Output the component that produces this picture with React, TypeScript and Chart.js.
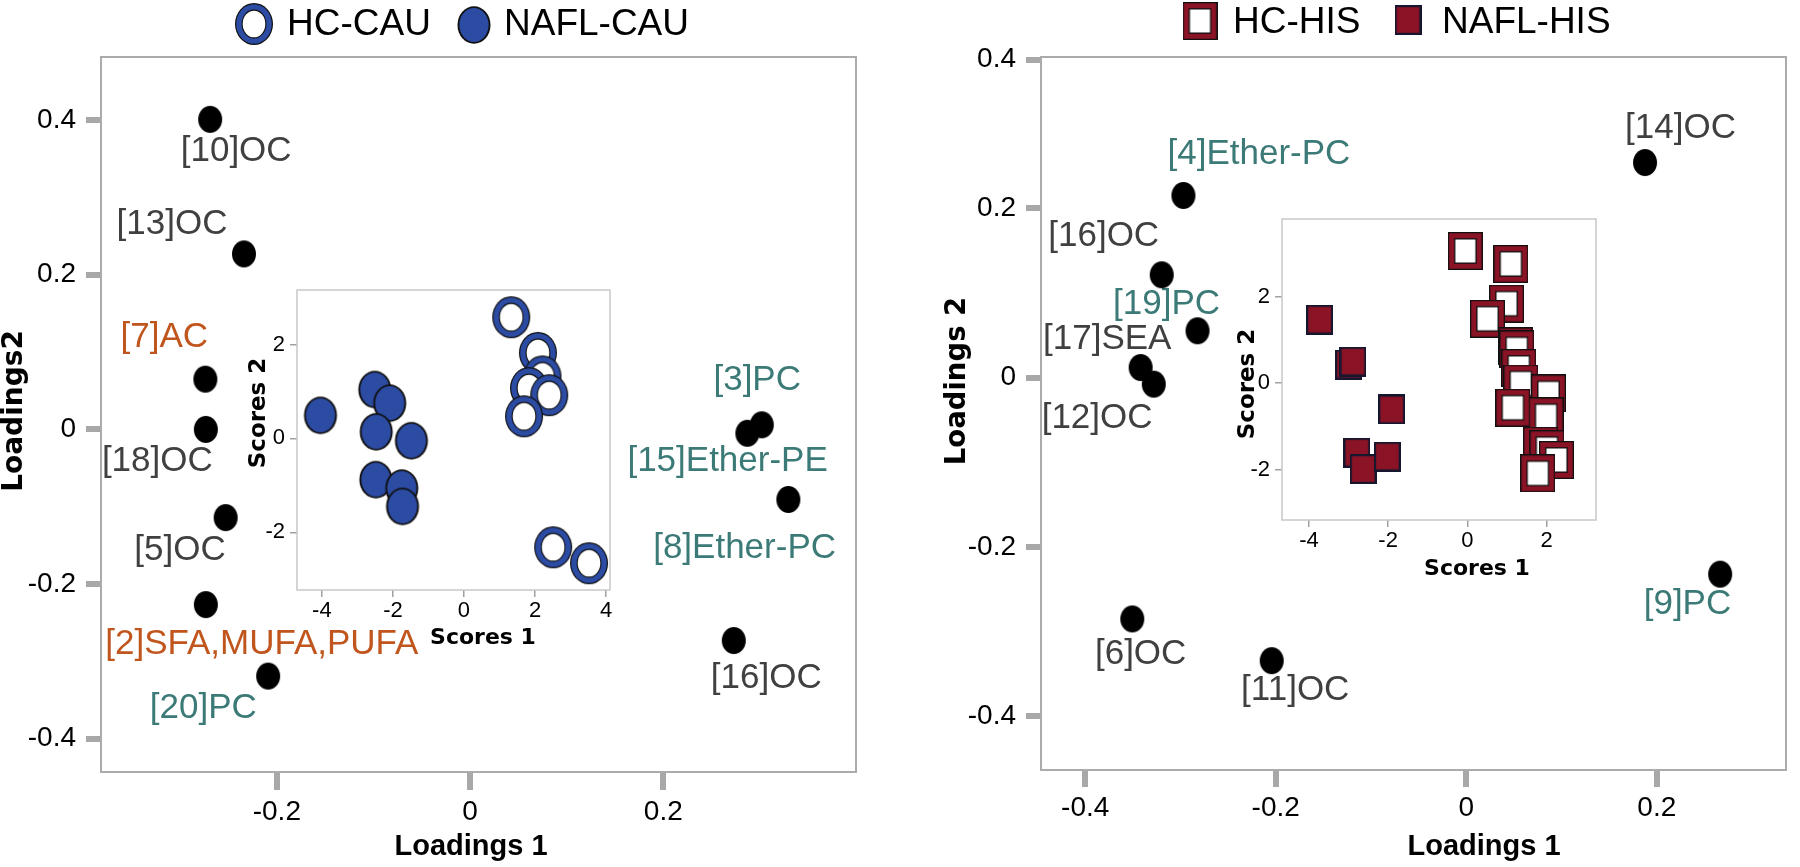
import React, { useEffect, useRef } from 'react';
import { Chart, registerables } from 'chart.js';
Chart.register(...registerables);

const SANS = '"Liberation Sans", Arial, sans-serif';
const DEJAVU = '"DejaVu Sans", sans-serif';

// ---------------- Left panel (CAU) : loadings ----------------
const cauLoadingLabels = ['[10]OC', '[13]OC', '[7]AC', '[18]OC', '[5]OC', '[2]SFA,MUFA,PUFA', '[20]PC', '[3]PC', '[15]Ether-PE', '[8]Ether-PC', '[16]OC'];
const cauLoading1 = [-0.269, -0.234, -0.274, -0.2735, -0.253, -0.2735, -0.209, 0.302, 0.287, 0.3295, 0.273];
const cauLoading2 = [0.401, 0.227, 0.065, 0.0, -0.114, -0.2265, -0.319, 0.006, -0.005, -0.0906, -0.273];
const cauLabelClass = ['OC', 'OC', 'FA', 'OC', 'OC', 'FA', 'PL', 'PL', 'PL', 'PL', 'OC'];
const cauLabelDx = [26, -72, -41, -48.5, -45.6, 56, -64.8, -4.6, -19.7, -43.8, 32.5];
const cauLabelDy = [32.4, -30, -42, 31.7, 32.7, 39.7, 32.3, -44.5, 28.5, 49, 38.3];
const cauLoadTicksX = [-0.2, 0, 0.2];
const cauLoadTicksY = [-0.4, -0.2, 0, 0.2, 0.4];
const cauLoadRangeX = [-0.382, 0.3995];
const cauLoadRangeY = [-0.443, 0.4816];

// ---------------- Left panel (CAU) : scores inset ----------------
const hcCauScore1 = [1.33, 2.08, 2.21, 1.83, 2.4, 1.69, 2.51, 3.52];
const hcCauScore2 = [2.58, 1.82, 1.32, 1.07, 0.92, 0.47, -2.32, -2.66];
const naflCauScore1 = [-4.04, -2.51, -2.09, -2.47, -1.48, -2.48, -1.75, -1.73];
const naflCauScore2 = [0.49, 1.04, 0.75, 0.14, -0.05, -0.88, -1.06, -1.45];
const cauScoreTicksX = [-4, -2, 0, 2, 4];
const cauScoreTicksY = [-2, 0, 2];
const cauScoreRangeX = [-4.7, 4.11];
const cauScoreRangeY = [-3.23, 3.16];

// ---------------- Right panel (HIS) : loadings ----------------
const hisLoadingLabels = ['[14]OC', '[4]Ether-PC', '[16]OC', '[19]PC', '[17]SEA', '[12]OC', '[9]PC', '[6]OC', '[11]OC'];
const hisLoading1 = [0.1876, -0.2969, -0.3197, -0.2821, -0.3418, -0.328, 0.2665, -0.3506, -0.2042];
const hisLoading2 = [0.254, 0.2151, 0.1214, 0.0552, 0.0118, -0.0078, -0.2323, -0.2852, -0.3345];
const hisLabelClass = ['OC', 'PL', 'OC', 'PL', 'OC', 'OC', 'PL', 'OC', 'OC'];
const hisLabelDx = [35.5, 75.5, -58, -31, -33.4, -56.7, -32.7, 8.4, 23.5];
const hisLabelDy = [-34, -40.7, -38, -26, -27.7, 34, 29.7, 35, 30];
const hisLoadTicksX = [-0.4, -0.2, 0, 0.2];
const hisLoadTicksY = [-0.4, -0.2, 0, 0.2, 0.3755];
const hisLoadTickLabelsY = ['-0.4', '-0.2', '0', '0.2', '0.4'];
const hisLoadRangeX = [-0.4464, 0.3356];
const hisLoadRangeY = [-0.4637, 0.3787];

// ---------------- Right panel (HIS) : scores inset ----------------
const hcHisScore1 = [-0.05, 1.1, 0.99, 0.51, 1.22, 1.25, 1.3, 1.35, 2.05, 1.15, 1.99, 1.85, 2.01, 2.25, 1.78];
const hcHisScore2 = [3.06, 2.76, 1.84, 1.49, 0.85, 0.78, 0.35, -0.01, -0.24, -0.57, -0.77, -1.45, -1.53, -1.78, -2.09];
const naflHisScore1 = [-3.73, -3.0, -2.89, -1.91, -2.79, -2.63, -2.02];
const naflHisScore2 = [1.47, 0.43, 0.5, -0.61, -1.61, -1.99, -1.7];
const hisScoreTicksX = [-4, -2, 0, 2];
const hisScoreTicksY = [-2, 0, 2];
const hisScoreRangeX = [-4.68, 3.25];
const hisScoreRangeY = [-3.17, 3.8];

const CLASS_COLORS: Record<string, string> = { OC: '#404040', FA: '#c0561d', PL: '#3b7a76' };
const BLUE = '#2c4ba3';
const RED = '#8b1326';
const NAVY = '#16162e';

// ---------------- marker images ----------------
let markerCache: Record<string, HTMLCanvasElement> | null = null;
function mk(w: number, h: number, draw: (g: CanvasRenderingContext2D) => void) {
  const c = document.createElement('canvas');
  c.width = w;
  c.height = h;
  const g = c.getContext('2d') as CanvasRenderingContext2D;
  draw(g);
  return c;
}
function ell(g: CanvasRenderingContext2D, cx: number, cy: number, rx: number, ry: number, col: string) {
  g.beginPath();
  g.ellipse(cx, cy, rx, ry, 0, 0, Math.PI * 2);
  g.fillStyle = col;
  g.fill();
}
function markers() {
  if (markerCache) return markerCache;
  markerCache = {
    dot: mk(26, 29, (g) => ell(g, 13, 14.5, 12, 13.5, '#000')),
    openCircle: mk(40, 44, (g) => {
      ell(g, 20, 22, 19, 21, '#111');
      ell(g, 20, 22, 17.8, 19.8, BLUE);
      ell(g, 20, 22, 12.4, 14.4, '#111');
      ell(g, 20, 22, 11.3, 13.3, '#fff');
    }),
    filledCircle: mk(36, 40, (g) => {
      ell(g, 18, 20, 16.5, 18.8, '#111');
      ell(g, 18, 20, 14.6, 16.9, BLUE);
    }),
    openSquare: mk(35, 38, (g) => {
      g.fillStyle = '#111';
      g.fillRect(0, 0, 35, 38);
      g.fillStyle = RED;
      g.fillRect(1.3, 1.3, 32.4, 35.4);
      g.fillStyle = '#111';
      g.fillRect(6.2, 6.2, 22.6, 25.6);
      g.fillStyle = '#fff';
      g.fillRect(7.5, 7.5, 20, 23);
    }),
    filledSquare: mk(27, 30, (g) => {
      g.fillStyle = NAVY;
      g.fillRect(0, 0, 27, 30);
      g.fillStyle = RED;
      g.fillRect(2.2, 2.2, 22.6, 25.6);
    }),
  };
  return markerCache;
}

// ---------------- helpers ----------------
type Title = { text: string; x: number; y: number; rot?: boolean; font: string };
type LegendItem = { marker: string; cx: number; cy: number; text: string; tx: number; ty: number };
type Decor = {
  offX: number;
  offY: number;
  fillArea?: boolean;
  boxColor: string;
  boxWidth: number;
  titles: Title[];
  legend?: LegendItem[];
  labels?: { text: string[]; cls: string[]; dx: number[]; dy: number[] };
};

function decorPlugin(d: Decor) {
  return {
    id: 'decor',
    beforeDraw(chart: any) {
      const { ctx, chartArea: a } = chart;
      if (d.fillArea) {
        ctx.save();
        ctx.fillStyle = '#fff';
        ctx.fillRect(a.left, a.top, a.right - a.left, a.bottom - a.top);
        ctx.restore();
      }
    },
    beforeDatasetsDraw(chart: any) {
      if (!d.labels) return;
      const { ctx } = chart;
      const meta = chart.getDatasetMeta(0);
      ctx.save();
      ctx.font = `35px ${SANS}`;
      ctx.textAlign = 'center';
      ctx.textBaseline = 'middle';
      meta.data.forEach((pt: any, i: number) => {
        ctx.fillStyle = CLASS_COLORS[d.labels!.cls[i]];
        ctx.fillText(d.labels!.text[i], pt.x + d.labels!.dx[i], pt.y + d.labels!.dy[i]);
      });
      ctx.restore();
    },
    afterDraw(chart: any) {
      const { ctx, chartArea: a } = chart;
      ctx.save();
      ctx.strokeStyle = d.boxColor;
      ctx.lineWidth = d.boxWidth;
      ctx.strokeRect(a.left, a.top, a.right - a.left, a.bottom - a.top);
      ctx.fillStyle = '#000';
      ctx.textAlign = 'center';
      ctx.textBaseline = 'middle';
      d.titles.forEach((t) => {
        ctx.save();
        ctx.font = t.font;
        ctx.translate(t.x - d.offX, t.y - d.offY);
        if (t.rot) ctx.rotate(-Math.PI / 2);
        ctx.fillText(t.text, 0, 0);
        ctx.restore();
      });
      if (d.legend) {
        const m = markers();
        ctx.font = `37px ${SANS}`;
        ctx.textAlign = 'left';
        d.legend.forEach((l) => {
          const img = m[l.marker];
          ctx.drawImage(img, l.cx - d.offX - img.width / 2, l.cy - d.offY - img.height / 2);
          ctx.fillText(l.text, l.tx - d.offX, l.ty - d.offY);
        });
      }
      ctx.restore();
    },
  };
}

type AxisOpt = {
  range: number[];
  ticks: number[];
  labels?: string[];
  horizontal: boolean;
  fit: number;
  tickLength: number;
  tickWidth: number;
  tickColor: string;
  pad: number;
  fontSize: number;
};
function axis(o: AxisOpt) {
  return {
    type: 'linear',
    position: o.horizontal ? 'bottom' : 'left',
    min: o.range[0],
    max: o.range[1],
    afterBuildTicks: (s: any) => {
      s.ticks = o.ticks.map((v) => ({ value: v }));
    },
    afterFit: (s: any) => {
      if (o.horizontal) s.height = o.fit;
      else s.width = o.fit;
    },
    ticks: {
      autoSkip: false,
      maxRotation: 0,
      minRotation: 0,
      padding: o.pad,
      color: '#000',
      font: { family: SANS, size: o.fontSize },
      callback: (v: any, i: number) => (o.labels ? o.labels[i] : String(v)),
    },
    grid: {
      drawOnChartArea: false,
      drawTicks: true,
      tickLength: o.tickLength,
      lineWidth: o.tickWidth,
      color: o.tickColor,
    },
    border: { display: false },
  };
}

function pts(xs: number[], ys: number[]) {
  return xs.map((x, i) => ({ x, y: ys[i] }));
}

function baseOptions(padding: any, scales: any) {
  return {
    responsive: false,
    animation: false,
    devicePixelRatio: 1,
    layout: { padding },
    plugins: { legend: { display: false }, tooltip: { enabled: false } },
    events: [],
    scales,
  };
}

// ---------------- chart builders ----------------
function buildMainLeft() {
  const m = markers();
  return {
    type: 'scatter',
    data: {
      datasets: [
        { data: pts(cauLoading1, cauLoading2), pointStyle: m.dot, pointRadius: 13, clip: false },
      ],
    },
    options: baseOptions(
      { left: 0, top: 57, right: 34, bottom: 0 },
      {
        x: axis({ range: cauLoadRangeX, ticks: cauLoadTicksX, horizontal: true, fit: 95, tickLength: 18, tickWidth: 6, tickColor: '#a8a8a8', pad: 5, fontSize: 28 }),
        y: axis({ range: cauLoadRangeY, ticks: cauLoadTicksY, horizontal: false, fit: 101, tickLength: 15, tickWidth: 6, tickColor: '#a8a8a8', pad: 10, fontSize: 28 }),
      }
    ),
    plugins: [
      decorPlugin({
        offX: 0,
        offY: 0,
        boxColor: '#ababab',
        boxWidth: 2,
        titles: [
          { text: 'Loadings 1', x: 471, y: 847, font: `bold 29px ${SANS}` },
          { text: 'Loadings2', x: 15, y: 411, rot: true, font: `bold 28px ${DEJAVU}` },
        ],
        legend: [
          { marker: 'openCircle', cx: 254, cy: 24, text: 'HC-CAU', tx: 287, ty: 25 },
          { marker: 'filledCircle', cx: 474, cy: 25, text: 'NAFL-CAU', tx: 504, ty: 25 },
        ],
        labels: { text: cauLoadingLabels, cls: cauLabelClass, dx: cauLabelDx, dy: cauLabelDy },
      }),
    ],
  };
}

function buildMainRight() {
  const m = markers();
  return {
    type: 'scatter',
    data: {
      datasets: [
        { data: pts(hisLoading1, hisLoading2), pointStyle: m.dot, pointRadius: 13, clip: false },
      ],
    },
    options: baseOptions(
      { left: 0, top: 57, right: 6, bottom: 0 },
      {
        x: axis({ range: hisLoadRangeX, ticks: hisLoadTicksX, horizontal: true, fit: 97, tickLength: 17, tickWidth: 6, tickColor: '#a8a8a8', pad: 4, fontSize: 28 }),
        y: axis({ range: hisLoadRangeY, ticks: hisLoadTicksY, labels: hisLoadTickLabelsY, horizontal: false, fit: 141, tickLength: 15, tickWidth: 6, tickColor: '#a8a8a8', pad: 10, fontSize: 28 }),
      }
    ),
    plugins: [
      decorPlugin({
        offX: 900,
        offY: 0,
        boxColor: '#ababab',
        boxWidth: 2,
        titles: [
          { text: 'Loadings 1', x: 1484, y: 847, font: `bold 29px ${SANS}` },
          { text: 'Loadings 2', x: 958, y: 381, rot: true, font: `bold 27.5px ${DEJAVU}` },
        ],
        legend: [
          { marker: 'openSquare', cx: 1200, cy: 21, text: 'HC-HIS', tx: 1233, ty: 23 },
          { marker: 'filledSquare', cx: 1408, cy: 20, text: 'NAFL-HIS', tx: 1442, ty: 23 },
        ],
        labels: { text: hisLoadingLabels, cls: hisLabelClass, dx: hisLabelDx, dy: hisLabelDy },
      }),
    ],
  };
}

function buildInsetLeft() {
  const m = markers();
  return {
    type: 'scatter',
    data: {
      datasets: [
        { data: pts(hcCauScore1, hcCauScore2), pointStyle: m.openCircle, pointRadius: 19, clip: false },
        { data: pts(naflCauScore1, naflCauScore2), pointStyle: m.filledCircle, pointRadius: 17, clip: false },
      ],
    },
    options: baseOptions(
      { left: 0, top: 6, right: 10, bottom: 0 },
      {
        x: axis({ range: cauScoreRangeX, ticks: cauScoreTicksX, horizontal: true, fit: 70, tickLength: 7, tickWidth: 1.5, tickColor: '#a0a0a0', pad: 1, fontSize: 22 }),
        y: axis({ range: cauScoreRangeY, ticks: cauScoreTicksY, horizontal: false, fit: 57, tickLength: 7, tickWidth: 1.5, tickColor: '#a0a0a0', pad: 5, fontSize: 22 }),
      }
    ),
    plugins: [
      decorPlugin({
        offX: 240,
        offY: 270,
        fillArea: true,
        boxColor: '#c8c8c8',
        boxWidth: 1.5,
        titles: [
          { text: 'Scores 1', x: 483, y: 638, font: `bold 22px ${DEJAVU}` },
          { text: 'Scores 2', x: 259, y: 413, rot: true, font: `bold 23px ${DEJAVU}` },
        ],
      }),
    ],
  };
}

function buildInsetRight() {
  const m = markers();
  return {
    type: 'scatter',
    data: {
      datasets: [
        { data: pts(hcHisScore1, hcHisScore2), pointStyle: m.openSquare, pointRadius: 18, clip: false },
        { data: pts(naflHisScore1, naflHisScore2), pointStyle: m.filledSquare, pointRadius: 14, clip: false },
      ],
    },
    options: baseOptions(
      { left: 0, top: 7, right: 11, bottom: 0 },
      {
        x: axis({ range: hisScoreRangeX, ticks: hisScoreTicksX, horizontal: true, fit: 70, tickLength: 7, tickWidth: 1.5, tickColor: '#a0a0a0', pad: 1, fontSize: 22 }),
        y: axis({ range: hisScoreRangeY, ticks: hisScoreTicksY, horizontal: false, fit: 57, tickLength: 7, tickWidth: 1.5, tickColor: '#a0a0a0', pad: 5, fontSize: 22 }),
      }
    ),
    plugins: [
      decorPlugin({
        offX: 1225,
        offY: 200,
        fillArea: true,
        boxColor: '#c8c8c8',
        boxWidth: 1.5,
        titles: [
          { text: 'Scores 1', x: 1477, y: 569, font: `bold 22px ${DEJAVU}` },
          { text: 'Scores 2', x: 1248, y: 384, rot: true, font: `bold 23px ${DEJAVU}` },
        ],
      }),
    ],
  };
}

function ChartCanvas(props: { left: number; top: number; width: number; height: number; build: () => any }) {
  const ref = useRef<HTMLCanvasElement>(null);
  useEffect(() => {
    if (!ref.current) return;
    const chart = new Chart(ref.current, props.build());
    return () => chart.destroy();
  }, []);
  return (
    <canvas
      ref={ref}
      width={props.width}
      height={props.height}
      style={{ position: 'absolute', left: props.left, top: props.top, width: props.width, height: props.height }}
    />
  );
}

export default function App() {
  return (
    <div style={{ position: 'fixed', left: 0, top: 0, width: 1800, height: 867, background: '#fff', overflow: 'hidden' }}>
      <ChartCanvas left={0} top={0} width={890} height={867} build={buildMainLeft} />
      <ChartCanvas left={900} top={0} width={900} height={867} build={buildMainRight} />
      <ChartCanvas left={240} top={270} width={390} height={390} build={buildInsetLeft} />
      <ChartCanvas left={1225} top={200} width={390} height={390} build={buildInsetRight} />
    </div>
  );
}
